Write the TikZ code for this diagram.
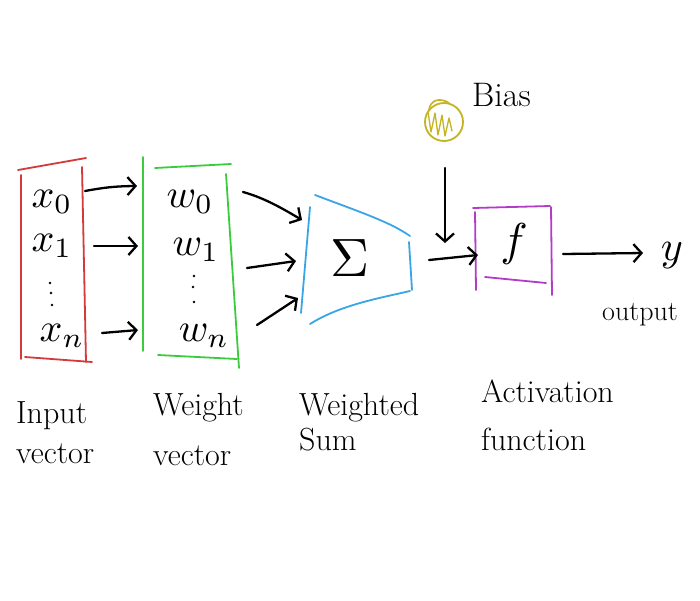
\documentclass[tikz,border=0pt]{standalone}
\usepackage{graphicx}
\usetikzlibrary{arrows.meta}
\definecolor{cred}{HTML}{D43A3A}
\definecolor{cgreen}{HTML}{3CCB3C}
\definecolor{cblue}{HTML}{3AA5E6}
\definecolor{cpurple}{HTML}{B23CC8}
\definecolor{cyellow}{HTML}{C4B424}
\newcommand{\mysym}[2]{\scalebox{#1}{$#2$}}
\begin{document}
\begin{tikzpicture}[x=1pt,y=-1pt,line cap=round,line join=round,
  ink/.style={line width=2.3pt,black},
  arr/.style={ink,-{Straight Barb[length=8pt,width=18pt,line width=2.3pt]}},
  frame/.style={line width=1.8pt},
  lbl/.style={font=\fontsize{32}{40}\selectfont,align=left,inner sep=0pt,anchor=base west},
  sym/.style={inner sep=1pt},
  dotmark/.style={fill=black}]
\fill[white] (0,0) rectangle (700,600);
\useasboundingbox (0,0) rectangle (700,600);

% input vector box (red)
\draw[frame,cred] (18,170) -- (86,158);
\draw[frame,cred] (21,175) -- (21,359);
\draw[frame,cred] (82,167) -- (86,362);
\draw[frame,cred] (25,357) -- (92,362);
\node[sym] (x0) at (52,202) {\mysym{4}{x_0}};
\node[sym] (x1) at (52,246) {\mysym{4}{x_1}};
\coordinate (xd) at (52,293);
\fill[dotmark] (50,283) circle (1.4pt) (51,293) circle (1.4pt) (52,305) circle (1.4pt);
\node[sym] (xn) at (62,336) {\mysym{4}{x_n}};

% weight vector box (green)
\draw[frame,cgreen] (143,157) -- (143,351);
\draw[frame,cgreen] (155,168) -- (231,164);
\draw[frame,cgreen] (226,174) -- (239,368);
\draw[frame,cgreen] (158,355) -- (237,359);
\node[sym] (w0) at (190,202) {\mysym{4}{w_0}};
\node[sym] (w1) at (196,250) {\mysym{4}{w_1}};
\coordinate (wd) at (194,288);
\fill[dotmark] (194,276) circle (1.3pt) (193,287) circle (1.3pt) (194,302) circle (1.3pt);
\node[sym] (wn) at (204,336) {\mysym{4}{w_n}};

% arrows input -> weight
\coordinate (a0s) at (85,191); \coordinate (a0e) at (137,186);
\coordinate (a1s) at (94,246); \coordinate (a1e) at (138,246);
\coordinate (ans) at (102,333); \coordinate (ane) at (138,330);
\draw[arr] (a0s) to[bend left=5] (a0e);
\draw[arr] (a1s) -- (a1e);
\draw[arr] (ans) -- (ane);

% weighted sum (blue trapezoid)
\draw[frame,cblue] (310,207) -- (301,313);
\draw[frame,cblue] (315,195) .. controls (360,212) and (390,222) .. (410,236);
\draw[frame,cblue] (409,242) -- (412,290);
\draw[frame,cblue] (310,324) .. controls (340,305) and (380,298) .. (410,291);
\node[inner sep=0pt] (sum) at (350,258) {\mysym{5.4}{\Sigma}};

% arrows weight -> sum
\coordinate (b0s) at (243,192); \coordinate (b0e) at (302,220);
\coordinate (b1s) at (247,268); \coordinate (b1e) at (296,261);
\coordinate (bns) at (257,325); \coordinate (bne) at (298,298);
\draw[arr] (b0s) .. controls (265,198) and (285,210) .. (b0e);
\draw[arr] (b1s) -- (b1e);
\draw[arr] (bns) -- (bne);

% bias
\node[circle,draw=cyellow,line width=1.8pt,minimum size=38pt,inner sep=0pt] (bias) at (444,122) {};
\draw[cyellow,line width=1.3pt] (428,112) -- (431,132) -- (435,113) -- (438,135) -- (442,115) -- (445,136) -- (449,118) -- (452,131);
\draw[cyellow,line width=1.6pt] (429,110) .. controls (430,100) and (440,97) .. (449,103);
\node[lbl,font=\fontsize{34}{36}\selectfont] (biaslbl) at (472,106) {Bias};
\coordinate (bias1) at (445,168); \coordinate (bias2) at (445,243);
\draw[arr] (bias1) -- (bias2);

% activation function (purple)
\draw[frame,cpurple] (475,212) -- (476,290);
\draw[frame,cpurple] (473,208) -- (550,206);
\draw[frame,cpurple] (551,207) -- (552,295);
\draw[frame,cpurple] (485,277) -- (546,283);
\node[inner sep=0pt] (f) at (514,244) {\mysym{4.6}{f}};

\coordinate (s1) at (429,260); \coordinate (s2) at (478,255);
\draw[arr] (s1) -- (s2);

% output
\coordinate (o1) at (563,254); \coordinate (o2) at (643,253);
\draw[arr] (o1) -- (o2);
\node[sym] (y) at (672,256) {\mysym{4.2}{y}};
\node[lbl,font=\fontsize{28}{30}\selectfont] (outlbl) at (602,320) {output};

% labels
\node[lbl] (lin) at (16,463) {Input\\vector};
\node[lbl] (lw) at (153,465) {Weight\\[10pt]vector};
\node[lbl] (ls) at (299,450) {Weighted\\[-5pt]Sum};
\node[lbl] (la) at (481,450) {Activation\\[8pt]function};
\end{tikzpicture}
\end{document}
